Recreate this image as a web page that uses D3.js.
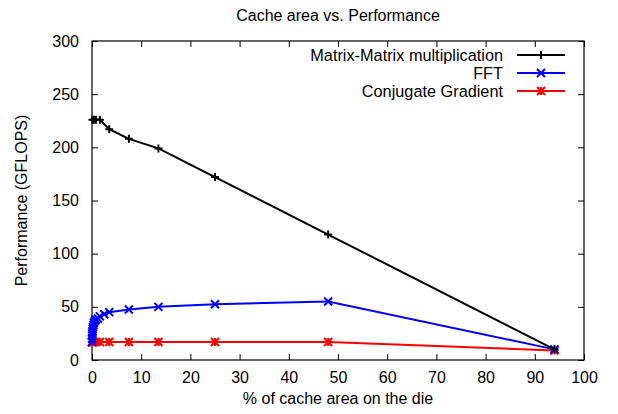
<!doctype html>
<html lang="en">
<head>
<meta charset="utf-8">
<title>Cache area vs. Performance</title>
<script src="https://cdn.jsdelivr.net/npm/d3@7"></script>
<style>
  body { margin: 0; background: #fff; }
  text { font-family: "Liberation Sans", Arial, sans-serif; fill: #000; }
</style>
</head>
<body>
<script>
// data
var xTicks = [0, 10, 20, 30, 40, 50, 60, 70, 80, 90, 100];
var yTicks = [0, 50, 100, 150, 200, 250, 300];

var mmX = [0.1, 0.4, 0.8, 1.6, 3.5, 7.5, 13.5, 25, 48, 94];
var mmY = [226, 226, 226, 226, 217, 208, 199, 172, 118, 10];

var fftX = [0, 0.02, 0.04, 0.06, 0.1, 0.15, 0.2, 0.3, 0.4, 0.6, 0.8, 1.2, 1.6, 2.5, 3.5, 7.5, 13.5, 25, 48, 94];
var fftY = [17, 20, 23, 25, 27, 29, 31, 33, 35, 37, 38, 39, 41, 43, 45, 47.5, 50, 52.5, 55, 10];

var cgX = [0, 0.1, 0.2, 0.4, 0.8, 1.6, 3.5, 7.5, 13.5, 25, 48, 94];
var cgY = [17, 17, 17, 17, 17, 17, 17, 17, 17, 17, 17, 9];

var seriesNames = ["Matrix-Matrix multiplication", "FFT", "Conjugate Gradient"];
var seriesColors = ["#000000", "#0000ff", "#ff0000"];

var W = 618, H = 414;
var pl = 92, pr = 584, pt = 41, pb = 360;

var svg = d3.select("body").append("svg").attr("width", W).attr("height", H);

var x = d3.scaleLinear().domain([0, 100]).range([pl, pr]);
var y = d3.scaleLinear().domain([0, 300]).range([pb, pt]);

// axes with inward ticks on all four sides
function styleAxis(g) {
    g.select(".domain").remove();
    g.selectAll("line").attr("stroke", "#000").attr("stroke-width", 1);
    g.selectAll("text").style("font-size", "16px").attr("fill", "#000");
}
svg.append("g").attr("transform", "translate(0," + pb + ")")
    .call(d3.axisBottom(x).tickValues(xTicks).tickSize(-6).tickPadding(12).tickFormat(d3.format("d")))
    .call(styleAxis);
svg.append("g").attr("transform", "translate(0," + pt + ")")
    .call(d3.axisTop(x).tickValues(xTicks).tickSize(-6).tickFormat(""))
    .call(styleAxis);
svg.append("g").attr("transform", "translate(" + pl + ",0)")
    .call(d3.axisLeft(y).tickValues(yTicks).tickSize(-6).tickPadding(13).tickFormat(d3.format("d")))
    .call(styleAxis);
svg.append("g").attr("transform", "translate(" + pr + ",0)")
    .call(d3.axisRight(y).tickValues(yTicks).tickSize(-6).tickFormat(""))
    .call(styleAxis);

svg.append("rect").attr("x", pl).attr("y", pt)
    .attr("width", pr - pl).attr("height", pb - pt)
    .attr("fill", "none").attr("stroke", "#000").attr("stroke-width", 1.2);

// titles
svg.append("text").attr("x", (pl + pr) / 2).attr("y", 21)
    .attr("text-anchor", "middle").style("font-size", "16px").text("Cache area vs. Performance");
svg.append("text").attr("x", (pl + pr) / 2).attr("y", 404)
    .attr("text-anchor", "middle").style("font-size", "16px").text("% of cache area on the die");
svg.append("text").attr("transform", "translate(27," + ((pt + pb) / 2) + ") rotate(-90)")
    .attr("text-anchor", "middle").style("font-size", "16px").text("Performance (GFLOPS)");

// point markers in the gnuplot manner
function marker(g, type, color) {
    var s = 4;
    var d = "";
    if (type === 0 || type === 2) d += "M" + (-s) + ",0H" + s + "M0," + (-s) + "V" + s;
    if (type === 1 || type === 2) d += "M" + (-s) + "," + (-s) + "L" + s + "," + s + "M" + (-s) + "," + s + "L" + s + "," + (-s);
    g.append("path").attr("d", d).attr("stroke", color).attr("stroke-width", 2).attr("fill", "none");
}

var series = [[mmX, mmY], [fftX, fftY], [cgX, cgY]];
var line = d3.line().x(function(d){ return x(d[0]); }).y(function(d){ return y(d[1]); });

[2, 1, 0].forEach(function(i) {
    var pts = d3.zip(series[i][0], series[i][1]);
    svg.append("path").datum(pts).attr("d", line)
        .attr("fill", "none").attr("stroke", seriesColors[i]).attr("stroke-width", 2);
    svg.append("g").selectAll("g").data(pts).enter().append("g")
        .attr("transform", function(d){ return "translate(" + x(d[0]) + "," + y(d[1]) + ")"; })
        .each(function() { marker(d3.select(this), i, seriesColors[i]); });
});

// legend
var legY = [55, 73, 91];
seriesNames.forEach(function(name, i) {
    svg.append("text").attr("x", 503).attr("y", legY[i] + 6)
        .attr("text-anchor", "end").style("font-size", "16.3px").text(name);
    svg.append("line").attr("x1", 517).attr("x2", 565).attr("y1", legY[i]).attr("y2", legY[i])
        .attr("stroke", seriesColors[i]).attr("stroke-width", 2);
    marker(svg.append("g").attr("transform", "translate(541," + legY[i] + ")"), i, seriesColors[i]);
});
</script>
</body>
</html>
